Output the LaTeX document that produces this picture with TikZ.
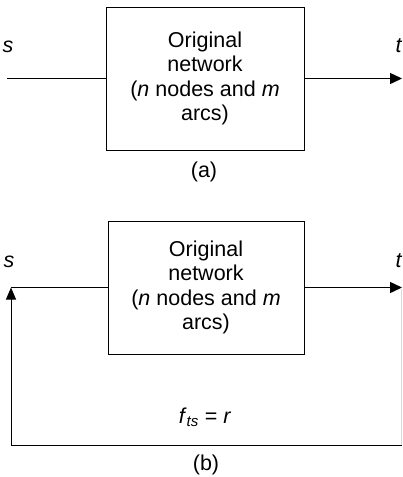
\documentclass[tikz,border=0pt]{standalone}
\usepackage{fontspec}
\setmainfont{Liberation Sans}
\usetikzlibrary{arrows.meta}
\begin{document}
\begin{tikzpicture}[x=1pt,y=-1pt,
  box/.style={draw, line width=1pt, align=center, inner sep=0pt,
    font=\fontsize{21.5}{24.5}\selectfont},
  lbl/.style={inner sep=0pt, font=\fontsize{21.5}{24}\selectfont},
  wire/.style={line width=1pt},
  arr/.style={line width=1.5pt, -{Triangle[length=12pt,width=11pt]}},
  uparr/.style={line width=1pt, -{Triangle[length=12pt,width=10pt]}},
  faint/.style={line width=0.7pt, black!15}]
\useasboundingbox (0,0) rectangle (402,477);
% (a)
\node[box, minimum width=198pt, minimum height=143pt] (A) at (205,78.5)
  {Original\\network\\(\textit{n} nodes and \textit{m}\\arcs)};
\coordinate (sA) at (7,78.5);
\coordinate (tA) at (402,78.5);
\draw[wire] (sA) -- (A.west);
\draw[arr] (A.east) -- (tA);
\node[lbl] (sAl) at (8,47) {\textit{s}};
\node[lbl] (tAl) at (399,46) {\textit{t}};
\node[lbl] (capA) at (204,172) {(a)};
% (b)
\node[box, minimum width=196pt, minimum height=133pt] (B) at (206,287.5)
  {Original\\network\\(\textit{n} nodes and \textit{m}\\arcs)};
\coordinate (sB) at (11,287.5);
\coordinate (tB) at (402,287.5);
\coordinate (bl) at (11,445);
\coordinate (br) at (402,445);
\coordinate (rt) at (401,289);
\coordinate (rb) at (401,445);
\draw[wire] (sB) -- (B.west);
\draw[arr] (B.east) -- (tB);
\draw[faint] (rt) -- (rb);
\draw[wire] (br) -- (bl);
\draw[uparr] (bl) -- (sB);
\node[lbl] (sBl) at (9,262) {\textit{s}};
\node[lbl] (tBl) at (399,261) {\textit{t}};
\node[lbl] (flow) at (205,417) {\textit{f}\textsubscript{\textit{ts}} = \textit{r}};
\node[lbl] (capB) at (206,465) {(b)};
\end{tikzpicture}
\end{document}
